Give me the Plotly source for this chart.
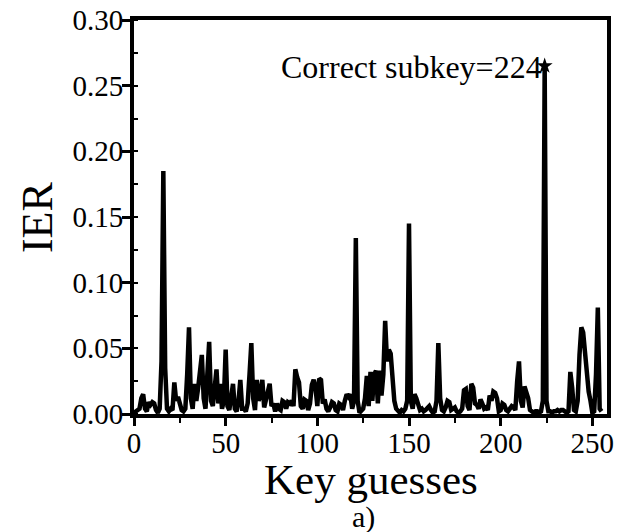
import plotly.graph_objects as go

key_guesses = list(range(256))
ier = [
    0.001, 0.002, 0.003, 0.004, 0.012, 0.015, 0.004, 0.002, 0.009, 0.007,
    0.009, 0.008, 0.003, 0.001, 0.004, 0.040, 0.185, 0.035, 0.004, 0.002,
    0.004, 0.003, 0.024, 0.010, 0.013, 0.007, 0.003, 0.002, 0.004, 0.030,
    0.066, 0.012, 0.004, 0.023, 0.010, 0.020, 0.038, 0.045, 0.012, 0.004,
    0.030, 0.055, 0.010, 0.006, 0.020, 0.034, 0.008, 0.023, 0.004, 0.010,
    0.049, 0.006, 0.003, 0.012, 0.023, 0.004, 0.002, 0.010, 0.026, 0.004,
    0.004, 0.002, 0.008, 0.030, 0.054, 0.012, 0.003, 0.026, 0.010, 0.015,
    0.026, 0.005, 0.012, 0.020, 0.023, 0.006, 0.008, 0.002, 0.008, 0.004,
    0.003, 0.010, 0.009, 0.004, 0.009, 0.008, 0.010, 0.006, 0.034, 0.028,
    0.024, 0.006, 0.004, 0.011, 0.010, 0.003, 0.008, 0.022, 0.026, 0.020,
    0.006, 0.027, 0.026, 0.008, 0.011, 0.004, 0.002, 0.005, 0.009, 0.008,
    0.003, 0.002, 0.008, 0.007, 0.003, 0.010, 0.015, 0.013, 0.015, 0.004,
    0.010, 0.134, 0.010, 0.001, 0.002, 0.004, 0.012, 0.029, 0.006, 0.032,
    0.010, 0.030, 0.033, 0.008, 0.033, 0.014, 0.030, 0.071, 0.040, 0.049,
    0.046, 0.023, 0.010, 0.004, 0.002, 0.001, 0.003, 0.002, 0.004, 0.010,
    0.145, 0.010, 0.004, 0.015, 0.012, 0.006, 0.003, 0.004, 0.002, 0.003,
    0.004, 0.006, 0.003, 0.001, 0.002, 0.010, 0.054, 0.012, 0.003, 0.002,
    0.005, 0.010, 0.009, 0.003, 0.004, 0.005, 0.002, 0.001, 0.002, 0.004,
    0.018, 0.019, 0.006, 0.003, 0.023, 0.020, 0.008, 0.007, 0.004, 0.011,
    0.008, 0.004, 0.005, 0.003, 0.014, 0.010, 0.017, 0.016, 0.012, 0.002,
    0.003, 0.008, 0.007, 0.003, 0.002, 0.004, 0.006, 0.005, 0.003, 0.025,
    0.040, 0.010, 0.005, 0.021, 0.017, 0.012, 0.003, 0.002, 0.001, 0.002,
    0.002, 0.001, 0.002, 0.010, 0.265, 0.010, 0.002, 0.002, 0.001, 0.002,
    0.002, 0.003, 0.002, 0.003, 0.003, 0.002, 0.001, 0.002, 0.032, 0.020,
    0.003, 0.002, 0.010, 0.045, 0.066, 0.062, 0.045, 0.030, 0.017, 0.010,
    0.001, 0.002, 0.030, 0.081, 0.004, 0.002,
]
correct_key = 224
correct_value = 0.265
x_ticks = [0, 50, 100, 150, 200, 250]
y_ticks = [0.00, 0.05, 0.10, 0.15, 0.20, 0.25, 0.30]

FONT = "Liberation Serif, Times New Roman, serif"

fig = go.Figure()
fig.add_trace(go.Scatter(
    x=key_guesses, y=ier, mode="lines",
    line=dict(color="black", width=4.5),
    showlegend=False, hoverinfo="skip",
))
fig.add_trace(go.Scatter(
    x=[correct_key], y=[correct_value], mode="markers",
    marker=dict(symbol="star", size=12, color="black"),
    showlegend=False,
))
fig.add_annotation(
    x=correct_key, y=correct_value, xref="x", yref="y",
    text="Correct subkey=224", showarrow=False,
    xanchor="right", yanchor="middle", xshift=-1, yshift=-1,
    font=dict(family=FONT, size=32, color="black"),
)
fig.add_annotation(
    x=0.5, y=0, xref="paper", yref="paper", yshift=-40,
    text="Key guesses", showarrow=False, xanchor="center", yanchor="top",
    font=dict(family=FONT, size=43, color="black"),
)
fig.add_annotation(
    x=0.486, y=0, xref="paper", yref="paper", yshift=-84,
    text="a)", showarrow=False, xanchor="center", yanchor="top",
    font=dict(family=FONT, size=30, color="black"),
)
fig.add_annotation(
    x=-0.205, y=0.5, xref="paper", yref="paper",
    text="IER", showarrow=False, xanchor="center", yanchor="middle",
    textangle=-90,
    font=dict(family=FONT, size=44, color="black"),
)

axis_common = dict(
    showline=True, linewidth=4, linecolor="black", mirror=True,
    showgrid=False, zeroline=False, automargin=False,
    ticks="outside", ticklen=8, tickwidth=3, tickcolor="black",
    ticklabeloverflow="allow",
    tickfont=dict(family=FONT, size=29, color="black"),
)
fig.update_xaxes(
    range=[0, 258], tickvals=x_ticks, ticklabelstandoff=-8,
    minor=dict(ticks="outside", ticklen=5, tickwidth=2, tickcolor="black", dtick=25, tick0=0),
    **axis_common,
)
fig.update_yaxes(
    range=[0, 0.30], tickvals=y_ticks, tickformat=".2f", ticklabelstandoff=-7,
    minor=dict(ticks="inside", ticklen=4, tickwidth=2, tickcolor="black", dtick=0.025, tick0=0),
    **axis_common,
)
fig.update_layout(
    width=618, height=532,
    margin=dict(l=134, r=11, t=20, b=118),
    plot_bgcolor="white", paper_bgcolor="white",
)
fig.write_html(
    "out.html",
    config={"displayModeBar": False, "staticPlot": True},
    post_script="document.body.style.margin='0';",
)
